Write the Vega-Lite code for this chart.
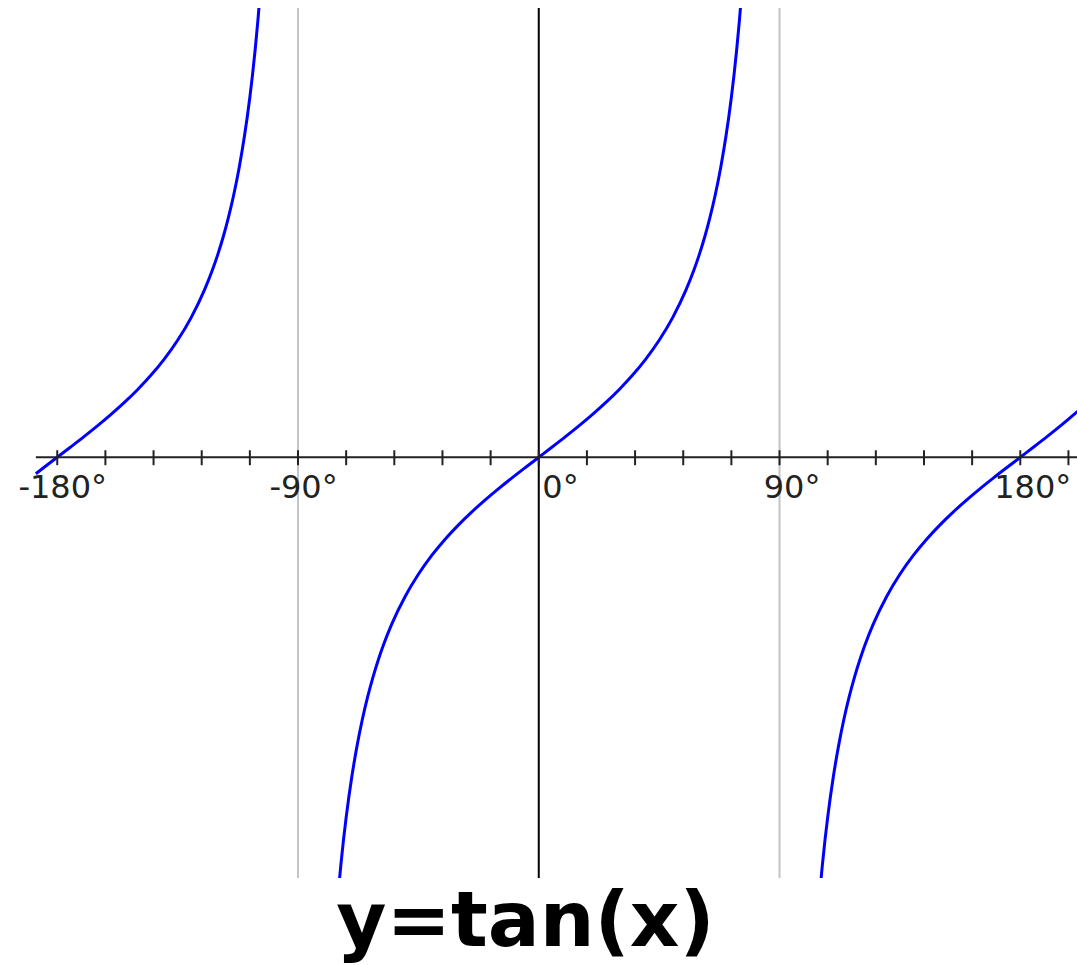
{
  "$schema": "https://vega.github.io/schema/vega-lite/v6.json",
  "width": 1077,
  "height": 870,
  "autosize": "none",
  "padding": {"top": 8, "left": 0, "right": 0, "bottom": 87},
  "background": "white",
  "config": {"view": {"stroke": null}},
  "title": {
    "text": "y=tan(x)",
    "orient": "bottom",
    "anchor": "middle",
    "font": "DejaVu Sans",
    "fontWeight": "bold",
    "fontSize": 77,
    "color": "#000000",
    "offset": 6,
    "dx": -13
  },
  "datasets": {
    "curve": [
      {"b": 1, "deg": -188, "v": -0.1405},
      {"b": 1, "deg": -185, "v": -0.0875},
      {"b": 1, "deg": -180, "v": 0},
      {"b": 1, "deg": -175, "v": 0.0875},
      {"b": 1, "deg": -170, "v": 0.1763},
      {"b": 1, "deg": -165, "v": 0.2679},
      {"b": 1, "deg": -160, "v": 0.364},
      {"b": 1, "deg": -155, "v": 0.4663},
      {"b": 1, "deg": -150, "v": 0.5774},
      {"b": 1, "deg": -145, "v": 0.7002},
      {"b": 1, "deg": -140, "v": 0.8391},
      {"b": 1, "deg": -135, "v": 1},
      {"b": 1, "deg": -130, "v": 1.1918},
      {"b": 1, "deg": -125, "v": 1.4281},
      {"b": 1, "deg": -122, "v": 1.6003},
      {"b": 1, "deg": -120, "v": 1.7321},
      {"b": 1, "deg": -118, "v": 1.8807},
      {"b": 1, "deg": -116, "v": 2.0503},
      {"b": 1, "deg": -114, "v": 2.246},
      {"b": 1, "deg": -112, "v": 2.4751},
      {"b": 1, "deg": -110, "v": 2.7475},
      {"b": 1, "deg": -109, "v": 2.9042},
      {"b": 1, "deg": -108, "v": 3.0777},
      {"b": 1, "deg": -107, "v": 3.2709},
      {"b": 1, "deg": -106, "v": 3.4874},
      {"b": 1, "deg": -105, "v": 3.7321},
      {"b": 1, "deg": -104, "v": 4.0108},
      {"b": 2, "deg": -76, "v": -4.0108},
      {"b": 2, "deg": -75, "v": -3.7321},
      {"b": 2, "deg": -74, "v": -3.4874},
      {"b": 2, "deg": -73, "v": -3.2709},
      {"b": 2, "deg": -72, "v": -3.0777},
      {"b": 2, "deg": -71, "v": -2.9042},
      {"b": 2, "deg": -70, "v": -2.7475},
      {"b": 2, "deg": -68, "v": -2.4751},
      {"b": 2, "deg": -66, "v": -2.246},
      {"b": 2, "deg": -64, "v": -2.0503},
      {"b": 2, "deg": -62, "v": -1.8807},
      {"b": 2, "deg": -60, "v": -1.7321},
      {"b": 2, "deg": -58, "v": -1.6003},
      {"b": 2, "deg": -55, "v": -1.4281},
      {"b": 2, "deg": -50, "v": -1.1918},
      {"b": 2, "deg": -45, "v": -1},
      {"b": 2, "deg": -40, "v": -0.8391},
      {"b": 2, "deg": -35, "v": -0.7002},
      {"b": 2, "deg": -30, "v": -0.5774},
      {"b": 2, "deg": -25, "v": -0.4663},
      {"b": 2, "deg": -20, "v": -0.364},
      {"b": 2, "deg": -15, "v": -0.2679},
      {"b": 2, "deg": -10, "v": -0.1763},
      {"b": 2, "deg": -5, "v": -0.0875},
      {"b": 2, "deg": 0, "v": 0},
      {"b": 2, "deg": 5, "v": 0.0875},
      {"b": 2, "deg": 10, "v": 0.1763},
      {"b": 2, "deg": 15, "v": 0.2679},
      {"b": 2, "deg": 20, "v": 0.364},
      {"b": 2, "deg": 25, "v": 0.4663},
      {"b": 2, "deg": 30, "v": 0.5774},
      {"b": 2, "deg": 35, "v": 0.7002},
      {"b": 2, "deg": 40, "v": 0.8391},
      {"b": 2, "deg": 45, "v": 1},
      {"b": 2, "deg": 50, "v": 1.1918},
      {"b": 2, "deg": 55, "v": 1.4281},
      {"b": 2, "deg": 58, "v": 1.6003},
      {"b": 2, "deg": 60, "v": 1.7321},
      {"b": 2, "deg": 62, "v": 1.8807},
      {"b": 2, "deg": 64, "v": 2.0503},
      {"b": 2, "deg": 66, "v": 2.246},
      {"b": 2, "deg": 68, "v": 2.4751},
      {"b": 2, "deg": 70, "v": 2.7475},
      {"b": 2, "deg": 71, "v": 2.9042},
      {"b": 2, "deg": 72, "v": 3.0777},
      {"b": 2, "deg": 73, "v": 3.2709},
      {"b": 2, "deg": 74, "v": 3.4874},
      {"b": 2, "deg": 75, "v": 3.7321},
      {"b": 2, "deg": 76, "v": 4.0108},
      {"b": 3, "deg": 104, "v": -4.0108},
      {"b": 3, "deg": 105, "v": -3.7321},
      {"b": 3, "deg": 106, "v": -3.4874},
      {"b": 3, "deg": 107, "v": -3.2709},
      {"b": 3, "deg": 108, "v": -3.0777},
      {"b": 3, "deg": 109, "v": -2.9042},
      {"b": 3, "deg": 110, "v": -2.7475},
      {"b": 3, "deg": 112, "v": -2.4751},
      {"b": 3, "deg": 114, "v": -2.246},
      {"b": 3, "deg": 116, "v": -2.0503},
      {"b": 3, "deg": 118, "v": -1.8807},
      {"b": 3, "deg": 120, "v": -1.7321},
      {"b": 3, "deg": 122, "v": -1.6003},
      {"b": 3, "deg": 125, "v": -1.4281},
      {"b": 3, "deg": 130, "v": -1.1918},
      {"b": 3, "deg": 135, "v": -1},
      {"b": 3, "deg": 140, "v": -0.8391},
      {"b": 3, "deg": 145, "v": -0.7002},
      {"b": 3, "deg": 150, "v": -0.5774},
      {"b": 3, "deg": 155, "v": -0.4663},
      {"b": 3, "deg": 160, "v": -0.364},
      {"b": 3, "deg": 165, "v": -0.2679},
      {"b": 3, "deg": 170, "v": -0.1763},
      {"b": 3, "deg": 175, "v": -0.0875},
      {"b": 3, "deg": 180, "v": 0},
      {"b": 3, "deg": 185, "v": 0.0875},
      {"b": 3, "deg": 190, "v": 0.1763},
      {"b": 3, "deg": 195, "v": 0.2679},
      {"b": 3, "deg": 200, "v": 0.364},
      {"b": 3, "deg": 202, "v": 0.404}
    ],
    "ticks": [
      {"t": -180}, {"t": -162}, {"t": -144}, {"t": -126}, {"t": -108}, {"t": -90},
      {"t": -72}, {"t": -54}, {"t": -36}, {"t": -18}, {"t": 0}, {"t": 18},
      {"t": 36}, {"t": 54}, {"t": 72}, {"t": 90}, {"t": 108}, {"t": 126},
      {"t": 144}, {"t": 162}, {"t": 180}, {"t": 198}
    ]
  },
  "layer": [
    {
      "data": {"name": "curve"},
      "mark": {"type": "line", "color": "#0000ff", "strokeWidth": 3, "clip": true, "interpolate": "monotone", "zindex": 2},
      "encoding": {
        "x": {
          "field": "deg", "type": "quantitative",
          "scale": {"domain": [-201.4, 201.2], "nice": false, "zero": false},
          "axis": {
            "orient": "bottom",
            "offset": -420.7,
            "values": [-180, -90, 0, 90, 180],
            "labelExpr": "datum.value + '°'",
            "domain": false,
            "ticks": false,
            "tickSize": 0,
            "grid": false,
            "title": null,
            "labelFont": "DejaVu Sans",
            "labelFontSize": 32,
            "labelColor": "#222222",
            "labelBaseline": "alphabetic",
            "labelPadding": 40,
            "labelFlush": false,
            "labelOverlap": false,
            "labelBound": false,
            "labelAlign": {"condition": {"test": "datum.value == 0", "value": "left"}, "value": "center"},
            "labelOffset": {"condition": [{"test": "datum.value == 0", "value": 3}, {"test": "datum.value > 0", "value": 12}], "value": 5},
            "zindex": 1
          }
        },
        "y": {
          "field": "v", "type": "quantitative",
          "scale": {"domain": [-3.596, 3.84], "nice": false, "zero": false},
          "axis": null
        },
        "detail": {"field": "b"}
      }
    },
    {
      "data": {"name": "ticks"},
      "mark": {"type": "rule", "color": "#c4c4c4", "strokeWidth": 2},
      "transform": [{"filter": "abs(datum.t) == 90"}],
      "encoding": {
        "x": {"field": "t", "type": "quantitative", "scale": {"domain": [-201.4, 201.2], "nice": false, "zero": false}}
      }
    },
    {
      "data": {"name": "ticks"},
      "mark": {"type": "rule", "color": "#000000", "strokeWidth": 2},
      "transform": [{"filter": "datum.t == 0"}],
      "encoding": {
        "x": {"field": "t", "type": "quantitative", "scale": {"domain": [-201.4, 201.2], "nice": false, "zero": false}}
      }
    },
    {
      "data": {"values": [{"x0": -188, "x1": 201.2, "y0": 0}]},
      "mark": {"type": "rule", "color": "#222222", "strokeWidth": 2},
      "encoding": {
        "x": {"field": "x0", "type": "quantitative", "scale": {"domain": [-201.4, 201.2], "nice": false, "zero": false}},
        "x2": {"field": "x1"},
        "y": {"field": "y0", "type": "quantitative", "scale": {"domain": [-3.596, 3.84], "nice": false, "zero": false}, "axis": null}
      }
    },
    {
      "data": {"name": "ticks"},
      "mark": {"type": "rule", "color": "#222222", "strokeWidth": 2},
      "encoding": {
        "x": {"field": "t", "type": "quantitative", "scale": {"domain": [-201.4, 201.2], "nice": false, "zero": false}},
        "y": {"datum": -0.068, "type": "quantitative", "scale": {"domain": [-3.596, 3.84], "nice": false, "zero": false}, "axis": null},
        "y2": {"datum": 0.06}
      }
    }
  ]
}
